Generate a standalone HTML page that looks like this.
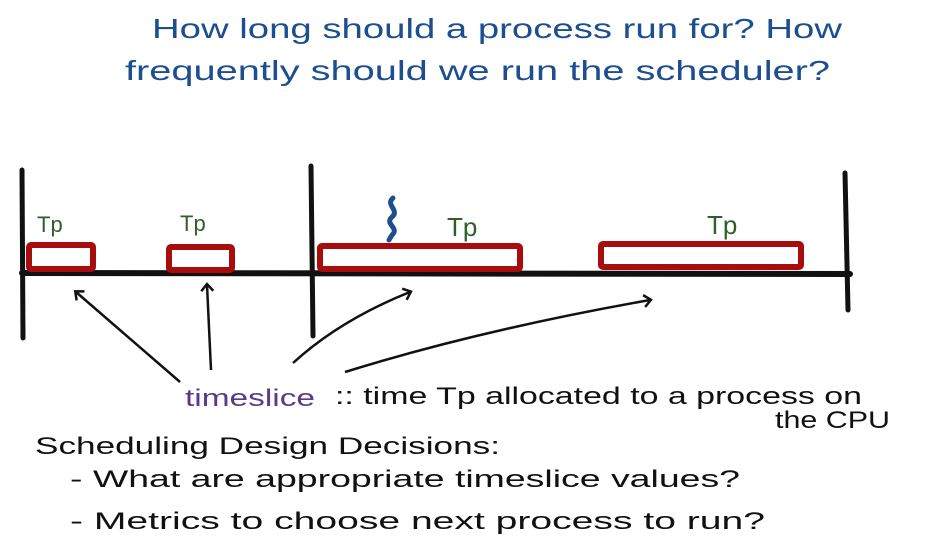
<!DOCTYPE html>
<html><head><meta charset="utf-8"><style>
html,body{margin:0;padding:0;background:#fff;width:940px;height:549px;overflow:hidden}
svg{display:block}
text{font-family:"Liberation Sans",sans-serif}
</style></head><body>
<svg width="940" height="549" viewBox="0 0 940 549">
<defs><marker id="a" markerWidth="14" markerHeight="14" refX="7" refY="7" orient="auto" markerUnits="userSpaceOnUse"><path d="M1,1 L8,7 L1,13" fill="none" stroke="#111" stroke-width="2.5"/></marker></defs>
<g fill="#1d4e8f" font-size="28">
<text x="152" y="38" textLength="690" lengthAdjust="spacingAndGlyphs">How long should a process run for?  How</text>
<text x="125" y="80" textLength="705" lengthAdjust="spacingAndGlyphs">frequently should we run the scheduler?</text>
</g>
<g stroke="#111" stroke-width="5" stroke-linecap="round">
<line x1="22" y1="170" x2="23" y2="338"/>
<line x1="311" y1="166" x2="313" y2="336"/>
<line x1="845" y1="173" x2="848" y2="310"/>
<line x1="22" y1="273" x2="850" y2="274" stroke-width="6"/>
</g>
<g fill="none" stroke="#a80c0c" stroke-width="6">
<rect x="29" y="245" width="64" height="24" rx="2"/>
<rect x="169" y="247" width="63" height="23" rx="2"/>
<rect x="320" y="246" width="200" height="23" rx="2"/>
<rect x="601" y="244" width="200" height="23" rx="2"/>
</g>
<path d="M393,198 C385,205 400,210 392,217 C384,224 400,228 392,235 L389,240" fill="none" stroke="#1d4e8f" stroke-width="5" stroke-linecap="round"/>
<g fill="#2e5e2a" font-size="22">
<text x="37" y="232">Tp</text><text x="180" y="231">Tp</text>
<text x="447" y="236" font-size="26">Tp</text><text x="707" y="234" font-size="26">Tp</text>
</g>
<g stroke="#111" stroke-width="2.5" fill="none" marker-end="url(#a)">
<path d="M180,382 L76,292"/>
<path d="M211,370 L207,285"/>
<path d="M293,363 Q340,320 410,292"/>
<path d="M345,372 Q480,330 650,300"/>
</g>
<text x="185" y="406" font-size="24" fill="#5a3a8a" textLength="130" lengthAdjust="spacingAndGlyphs">timeslice</text>
<g fill="#111" font-size="24">
<text x="335" y="404" textLength="527" lengthAdjust="spacingAndGlyphs">:: time Tp allocated to a process on</text>
<text x="775" y="428" textLength="115" lengthAdjust="spacingAndGlyphs">the CPU</text>
<text x="35" y="454" textLength="465" lengthAdjust="spacingAndGlyphs">Scheduling Design Decisions:</text>
<text x="70" y="487" textLength="670" lengthAdjust="spacingAndGlyphs">- What are appropriate timeslice values?</text>
<text x="70" y="529" textLength="695" lengthAdjust="spacingAndGlyphs">- Metrics to choose next process to run?</text>
</g>
</svg>
</body></html>
